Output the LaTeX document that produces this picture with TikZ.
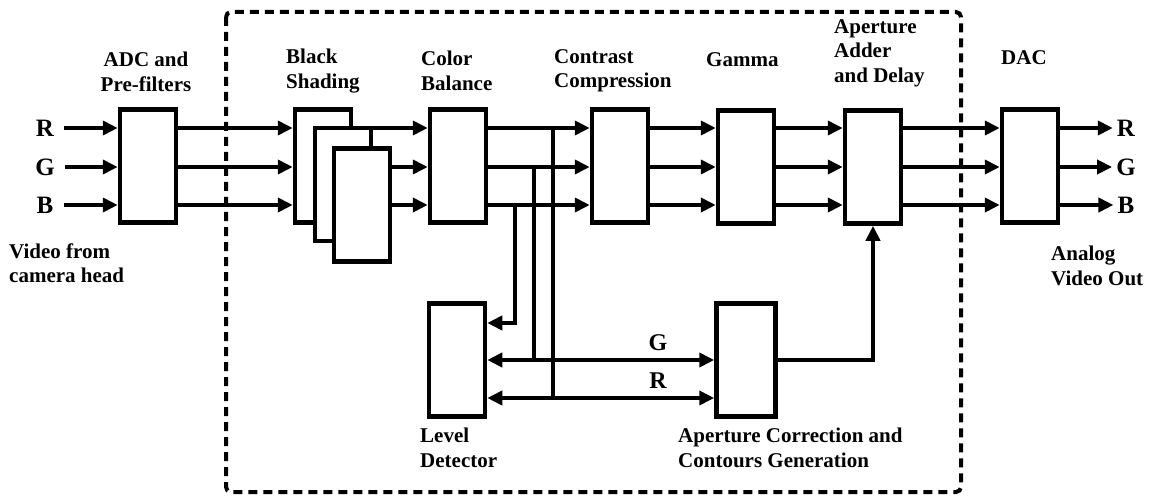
\documentclass[tikz,border=0pt]{standalone}
\usepackage{fontspec}
\setmainfont{Liberation Serif}
\usetikzlibrary{arrows.meta}

\tikzset{
  blk/.style={draw, line width=4.5pt, fill=white, minimum width=56pt, minimum height=113pt, inner sep=0pt},
  sig/.style={line width=3.8pt, -{Triangle[length=15pt,width=14pt]}},
  sigboth/.style={line width=3.8pt, {Triangle[length=15pt,width=14pt]}-{Triangle[length=15pt,width=14pt]}},
  wire/.style={line width=3.8pt},
  lbl/.style={font=\fontsize{21}{24.5}\selectfont\bfseries, align=left, anchor=west, inner sep=0pt},
  chan/.style={font=\fontsize{25}{27}\selectfont\bfseries, inner sep=0pt},
}

\begin{document}
\begin{tikzpicture}[x=1pt, y=-1pt]
    \useasboundingbox (0,0) rectangle (1156,497);

    % Camera processing section
    \draw[line width=4pt, dash pattern=on 9pt off 6pt, rounded corners=5pt] (226,12) rectangle (961,492);

    % Blocks
    \node[blk] (adc) at (148,166) {};
    \node[blk] (bs1) at (323,166) {};
    \node[blk] (bs2) at (343,184.5) {};
    \node[blk] (bs3) at (362,205) {};
    \node[blk] (cb) at (458,166) {};
    \node[blk] (cc) at (620,166) {};
    \node[blk] (gam) at (746,167) {};
    \node[blk] (aad) at (873,167) {};
    \node[blk] (dac) at (1030,166) {};
    \node[blk] (lvl) at (457,360) {};
    \node[blk, minimum width=59pt] (apc) at (746,360) {};

    % Block titles
    \node[lbl, align=center, anchor=center] (tadc) at (146,72) {ADC and\\Pre-filters};
    \node[lbl] (tbs) at (286,71) {Black\\Shading};
    \node[lbl] (tcb) at (421,71) {Color\\Balance};
    \node[lbl] (tcc) at (554,71) {Contrast\\Compression};
    \node[lbl] (tgam) at (706,60) {Gamma};
    \node[lbl] (taad) at (834,53) {Aperture\\Adder\\and Delay};
    \node[lbl] (tdac) at (1001,58) {DAC};
    \node[lbl] (tlvl) at (420,448) {Level\\Detector};
    \node[lbl] (tapc) at (678,448) {Aperture Correction and\\Contours Generation};
    \node[lbl] (tin) at (9,263) {Video from\\camera head};
    \node[lbl] (tout) at (1051,266) {Analog\\Video Out};

    % Channels in and out
    \node[chan] (iR) at (45,128) {R};
    \node[chan] (iG) at (45,167) {G};
    \node[chan] (iB) at (45,205) {B};
    \node[chan] (oR) at (1126,128) {R};
    \node[chan] (oG) at (1126,167) {G};
    \node[chan] (oB) at (1126,205) {B};

    \foreach \c in {R,G,B} {
        \draw[sig] ([xshift=10pt]i\c.east) -- (adc.west |- i\c);
        \draw[sig] (adc.east |- i\c) -- (bs1.west |- i\c);
        \draw[sig] (cb.east |- i\c) -- (cc.west |- i\c);
        \draw[sig] (cc.east |- i\c) -- (gam.west |- i\c);
        \draw[sig] (gam.east |- i\c) -- (aad.west |- i\c);
        \draw[sig] (aad.east |- i\c) -- (dac.west |- i\c);
        \draw[sig] (dac.east |- i\c) -- ([xshift=-4pt]o\c.west);
    }

    % Black shading outputs
    \draw[sig] (bs2.east |- iR) -- (cb.west |- iR);
    \draw[sig] (bs3.east |- iG) -- (cb.west |- iG);
    \draw[sig] (bs3.east |- iB) -- (cb.west |- iB);

    % Taps to level detector and aperture correction
    \coordinate (tR) at (553,128);
    \coordinate (tG) at (534,167);
    \coordinate (tB) at (515,205);
    \coordinate (busG) at (0,360);
    \coordinate (busR) at (0,398);

    \draw[sig] (tB) |- (lvl.east |- 0,323);
    \draw[wire] (tG) -- (tG |- busG);
    \draw[wire] (tR) -- (tR |- busR);
    \draw[sigboth] (lvl.east |- busG) -- (apc.west |- busG);
    \draw[sigboth] (lvl.east |- busR) -- (apc.west |- busR);
    \node[chan, font=\fontsize{24}{26}\selectfont\bfseries] (bG) at (658,343) {G};
    \node[chan, font=\fontsize{24}{26}\selectfont\bfseries] (bR) at (658,381) {R};

    % Aperture signal back to the adder
    \draw[sig] (apc.east) -| (aad.south);
\end{tikzpicture}
\end{document}
